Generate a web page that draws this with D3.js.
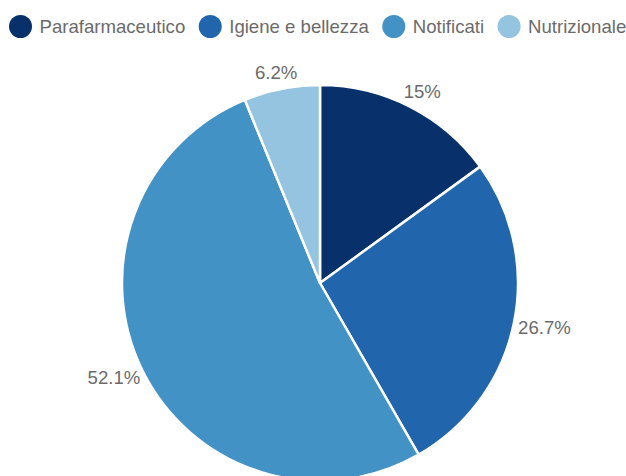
<!DOCTYPE html>
<html>
<head>
<meta charset="utf-8">
<script src="https://cdn.jsdelivr.net/npm/d3@7"></script>
<style>
  html, body { margin: 0; padding: 0; background: #fff; overflow: hidden; }
  svg { display: block; }
  text { font-family: "Liberation Sans", Arial, sans-serif; }
</style>
</head>
<body>
<svg id="chart" width="626" height="476"></svg>
<script>
const categories = ["Parafarmaceutico", "Igiene e bellezza", "Notificati", "Nutrizionale"];
const values = [15, 26.7, 52.1, 6.2];
const valueLabels = ["15%", "26.7%", "52.1%", "6.2%"];
const colors = ["#08306b", "#2166ac", "#4292c6", "#94c4df"];

const W = 626, H = 476;
const cx = 320, cy = 283, radius = 198;
const svg = d3.select("#chart");

const color = d3.scaleOrdinal().domain(categories).range(colors);

const data = categories.map((c, i) => ({ cat: c, value: values[i], label: valueLabels[i] }));
const pie = d3.pie().value(d => d.value).sort(null);
const arcs = pie(data);
const arc = d3.arc().innerRadius(0).outerRadius(radius);

const g = svg.append("g").attr("transform", `translate(${cx},${cy})`);
g.selectAll("path.slice").data(arcs).join("path")
  .attr("class", "slice")
  .attr("d", arc)
  .attr("fill", d => color(d.data.cat))
  .attr("stroke", "#fff")
  .attr("stroke-width", 2.5)
  .attr("stroke-linejoin", "round");

// labels
const labelR = 215;
const lbl = g.selectAll("text.lbl").data(arcs).join("text")
  .attr("class", "lbl")
  .attr("text-anchor", "middle")
  .attr("dominant-baseline", "central")
  .attr("fill", "#6b6b6b")
  .style("font-size", "18.6px")
  .text(d => d.data.label);
lbl.each(function(d) {
  const a = (d.startAngle + d.endAngle) / 2;
  const w = this.getComputedTextLength();
  const x = Math.sin(a) * labelR + Math.sin(a) * 0.55 * w / 2;
  const y = -Math.cos(a) * labelR;
  d3.select(this).attr("x", x).attr("y", y);
});

// legend
const legend = svg.append("g");
let lx = 9;
const ly = 26.5, r = 11.5;
categories.forEach((c, i) => {
  legend.append("circle").attr("cx", lx + r).attr("cy", ly).attr("r", r).attr("fill", color(c));
  const t = legend.append("text")
    .attr("x", lx + 2 * r + 7.5)
    .attr("y", ly)
    .attr("dominant-baseline", "central")
    .attr("fill", "#6b6b6b")
    .style("font-size", "18.6px")
    .text(c);
  const tw = t.node().getComputedTextLength();
  lx = lx + 2 * r + 7.5 + tw + 13.5;
});
</script>
</body>
</html>
